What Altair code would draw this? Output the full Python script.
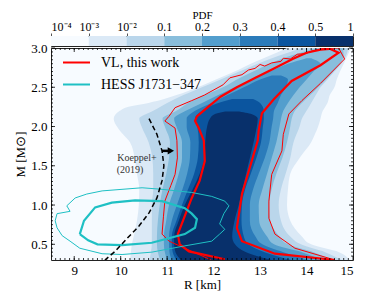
import altair as alt
import pandas as pd
import numpy as np

FONT = "Liberation Serif"

# ---------------- colour bar ----------------
CB_LABELS = ["10⁻⁴", "10⁻³", "10⁻²", "0.1", "0.2", "0.3", "0.4", "0.5", "1"]
CB_COLORS = ["#f7fbff", "#dbe9f6", "#bad6eb", "#89bedc", "#539ecd", "#2b7bba", "#0b559f", "#08306b"]

# ---------------- PDF levels (R interval at each M) ----------------
LV2_M = [0.3, 0.4, 0.5, 0.6, 0.8, 1.0, 1.2, 1.4, 1.6, 1.8, 1.9, 2.0, 2.1, 2.2, 2.25, 2.3, 2.4, 2.5, 2.6, 2.7, 2.8, 2.9, 3.0]
LV2_L = [10.2, 10.22, 10.24, 10.28, 10.35, 10.39, 10.4, 10.35, 10.3, 10.2, 10.05, 9.92, 9.85, 9.98, 10.15, 10.6, 11.2, 11.65, 12.05, 12.45, 12.8, 13.2, 13.58]
LV2_R = [14.93, 14.7, 14.1, 13.9, 13.65, 13.58, 13.6, 13.65, 13.85, 14.1, 14.18, 14.25, 14.3, 14.35, 14.4, 14.45, 14.5, 14.6, 14.65, 14.72, 14.8, 14.88, 14.95]

LV3_M = [0.3, 0.4, 0.5, 0.6, 0.8, 1.0, 1.2, 1.4, 1.6, 1.8, 2.0, 2.1, 2.2, 2.3, 2.4, 2.5, 2.6, 2.7, 2.8, 2.9, 3.0]
LV3_L = [10.62, 10.65, 10.67, 10.67, 10.67, 10.67, 10.7, 10.7, 10.68, 10.6, 10.45, 10.4, 10.7, 11.0, 11.35, 11.75, 12.15, 12.55, 12.95, 13.4, 13.9]
LV3_R = [14.76, 14.4, 13.88, 13.65, 13.45, 13.4, 13.45, 13.55, 13.65, 13.72, 13.85, 13.9, 14.0, 14.1, 14.2, 14.3, 14.45, 14.6, 14.75, 14.85, 14.9]

LV4_M = [0.3, 0.4, 0.5, 0.6, 0.8, 1.0, 1.2, 1.4, 1.6, 1.8, 2.0, 2.1, 2.2, 2.3, 2.4, 2.5, 2.6, 2.7, 2.8, 2.9, 3.0]
LV4_L = [10.85, 10.8, 10.78, 10.78, 10.8, 10.84, 10.9, 10.98, 11.04, 11.06, 10.95, 10.9, 11.2, 11.45, 11.8, 12.2, 12.5, 12.85, 13.2, 13.65, 14.2]
LV4_R = [14.54, 14.15, 13.6, 13.42, 13.22, 13.2, 13.25, 13.35, 13.48, 13.58, 13.65, 13.68, 13.75, 13.9, 14.08, 14.25, 14.42, 14.58, 14.72, 14.8, 14.78]

LV5_M = [0.3, 0.4, 0.5, 0.6, 0.8, 1.0, 1.2, 1.4, 1.6, 1.8, 2.0, 2.1, 2.2, 2.3, 2.4, 2.5, 2.6, 2.7, 2.8, 2.87]
LV5_L = [11.0, 10.95, 10.93, 10.93, 10.98, 11.04, 11.15, 11.25, 11.32, 11.32, 11.2, 11.15, 11.4, 11.75, 12.1, 12.45, 12.8, 13.2, 13.6, 14.0]
LV5_R = [14.33, 13.9, 13.3, 13.15, 12.98, 12.97, 13.05, 13.15, 13.25, 13.35, 13.42, 13.45, 13.5, 13.6, 13.72, 13.85, 14.0, 14.15, 14.3, 14.1]

LV6_M = [0.3, 0.4, 0.5, 0.6, 0.8, 1.0, 1.2, 1.4, 1.6, 1.8, 2.0, 2.1, 2.2, 2.3, 2.4, 2.5, 2.6, 2.65]
LV6_L = [11.1, 11.05, 11.04, 11.04, 11.1, 11.21, 11.33, 11.43, 11.49, 11.5, 11.42, 11.42, 11.6, 11.95, 12.3, 12.65, 13.0, 13.25]
LV6_R = [14.05, 13.5, 13.05, 12.9, 12.78, 12.78, 12.85, 12.97, 13.1, 13.2, 13.25, 13.28, 13.3, 13.38, 13.45, 13.55, 13.6, 13.45]

LV7_M = [0.3, 0.4, 0.5, 0.6, 0.8, 1.0, 1.2, 1.4, 1.6, 1.8, 2.0, 2.1, 2.2, 2.3, 2.35]
LV7_L = [11.2, 11.12, 11.1, 11.1, 11.2, 11.32, 11.45, 11.58, 11.66, 11.68, 11.65, 11.6, 11.75, 12.1, 12.4]
LV7_R = [13.68, 13.1, 12.75, 12.65, 12.6, 12.61, 12.68, 12.8, 12.92, 13.02, 13.06, 13.08, 13.08, 13.0, 12.85]

LV8_M = [0.3, 0.4, 0.5, 0.6, 0.8, 1.0, 1.2, 1.4, 1.6, 1.8, 2.0, 2.1, 2.15, 2.19]
LV8_L = [11.3, 11.18, 11.15, 11.15, 11.25, 11.38, 11.55, 11.7, 11.8, 11.82, 11.86, 11.92, 12.0, 12.25]
LV8_R = [13.25, 12.7, 12.46, 12.4, 12.45, 12.54, 12.62, 12.7, 12.78, 12.86, 12.93, 12.95, 12.85, 12.55]

LEVELS = [(LV2_M, LV2_L, LV2_R), (LV3_M, LV3_L, LV3_R), (LV4_M, LV4_L, LV4_R), (LV5_M, LV5_L, LV5_R),
          (LV6_M, LV6_L, LV6_R), (LV7_M, LV7_L, LV7_R), (LV8_M, LV8_L, LV8_R)]

# ---------------- VL contours (68% thick, 95% thin) ----------------
VL68_R = [12.24, 11.47, 11.27, 11.23, 11.36, 11.53, 11.70, 11.81, 11.79, 11.68, 11.60, 11.64, 11.90, 12.15, 12.5, 12.9, 13.3, 13.7, 14.0, 14.3, 14.5, 14.69, 14.3, 13.68, 13.3, 13.04, 12.97, 12.95, 12.82, 12.61, 12.5, 12.61, 13.32, 14.61]
VL68_M = [0.31, 0.41, 0.50, 0.63, 0.83, 1.09, 1.31, 1.56, 1.82, 1.98, 2.07, 2.13, 2.26, 2.38, 2.50, 2.62, 2.74, 2.86, 2.94, 2.98, 2.99, 2.94, 2.78, 2.58, 2.35, 2.17, 1.95, 1.82, 1.56, 1.14, 0.71, 0.54, 0.38, 0.30]

VL95_R = [11.95, 11.53, 11.04, 10.89, 10.92, 10.95, 11.08, 11.17, 11.22, 11.21, 11.17, 10.95, 11.04, 11.17, 11.53, 11.8, 12.2, 12.35, 12.61, 12.75, 12.89, 13.0, 13.1, 13.25, 13.45, 13.5, 13.65, 13.8, 14.0, 14.1, 14.33, 14.69, 14.82, 14.3, 13.9, 13.62, 13.5, 13.47, 13.25, 13.19, 13.19, 13.32, 13.75, 14.61]
VL95_M = [0.30, 0.41, 0.54, 0.63, 0.85, 1.05, 1.25, 1.39, 1.60, 1.82, 1.98, 2.07, 2.13, 2.24, 2.33, 2.40, 2.53, 2.62, 2.66, 2.72, 2.74, 2.79, 2.77, 2.81, 2.83, 2.87, 2.86, 2.92, 2.93, 2.96, 2.99, 3.0, 2.86, 2.55, 2.33, 2.16, 1.9, 1.69, 1.39, 1.05, 0.83, 0.63, 0.45, 0.30]

# ---------------- HESS J1731-347 contours ----------------
HESS68_R = [9.12, 9.21, 9.45, 9.81, 10.31, 10.89, 11.38, 11.53, 11.64, 11.60, 11.38, 10.67, 10.03, 9.5, 9.3, 9.12]
HESS68_M = [0.63, 0.80, 0.97, 1.03, 1.06, 1.05, 0.96, 0.89, 0.82, 0.71, 0.63, 0.52, 0.49, 0.50, 0.55, 0.63]

HESS95_R = [10.46, 9.6, 9.27, 9.02, 8.84, 8.91, 8.63, 8.59, 8.63, 8.74, 8.91, 9.12, 9.6, 10.03, 10.67, 11.38, 11.96, 12.13, 12.24, 12.13, 12.22, 12.33, 12.24, 11.96, 11.53, 10.89, 10.46]
HESS95_M = [1.22, 1.18, 1.14, 1.09, 0.99, 0.92, 0.89, 0.80, 0.71, 0.61, 0.54, 0.45, 0.38, 0.37, 0.40, 0.48, 0.54, 0.63, 0.69, 0.76, 0.89, 0.99, 1.05, 1.11, 1.16, 1.20, 1.22]

# ---------------- Koeppel+ (2019) bound ----------------
KOEP_R = [10.61, 10.78, 10.89, 10.93, 10.89, 10.78, 10.61, 10.39, 10.13, 9.88, 9.66]
KOEP_M = [2.10, 1.90, 1.69, 1.50, 1.31, 1.09, 0.90, 0.73, 0.57, 0.41, 0.30]
ARROW_R = [10.89, 11.08]
ARROW_M = 1.69
KOEP_TEXT = ["Koeppel+", "(2019)"]
KOEP_TEXT_R = [10.35, 10.2]
KOEP_TEXT_M = [1.60, 1.44]

SERIES = ["VL, this work", "HESS J1731−347"]
SERIES_COLORS = ["#ff0000", "#1fc0c4"]

X_TICKS = [9, 10, 11, 12, 13, 14, 15]
Y_TICKS = [0.5, 1.0, 1.5, 2.0, 2.5, 3.0]
X_MINOR = [round(v, 2) for v in np.arange(8.6, 15.0, 0.1)]
Y_MINOR = [round(v, 2) for v in np.arange(0.35, 3.0, 0.05)]

W, H = 302, 212

XS = alt.Scale(domain=[8.5, 15.0], nice=False, zero=False)
YS = alt.Scale(domain=[0.3, 3.0], nice=False, zero=False)
XA = alt.Axis(values=X_TICKS, format="d", tickSize=0, domain=False, grid=False, labelPadding=4,
              labelFontSize=13, titleFontSize=13, titlePadding=1, labelFont=FONT, titleFont=FONT,
              titleFontWeight="normal", labelColor="black", titleColor="black")
YA = alt.Axis(values=Y_TICKS, format=".1f", tickSize=0, domain=False, grid=False, labelPadding=4,
              labelFontSize=13, titleFontSize=13, titlePadding=3, labelFont=FONT, titleFont=FONT,
              titleFontWeight="normal", labelColor="black", titleColor="black")


def xe(f):
    return alt.X(f, type="quantitative", scale=XS, axis=XA, title="R [km]")


def ye(f):
    return alt.Y(f, type="quantitative", scale=YS, axis=YA, title="M [M⊙]")


CS = alt.Scale(domain=SERIES, range=SERIES_COLORS)
LEG = alt.Legend(title=None, orient="none", legendX=11, legendY=12, symbolType="stroke", symbolSize=729,
                 symbolStrokeWidth=2, labelFontSize=14, labelFont=FONT, labelOffset=10, rowPadding=-16,
                 labelColor="black")

layers = []
for k, (ms, ls, rs) in enumerate(LEVELS):
    df = pd.DataFrame({"M": ms, "L": ls, "R": rs})
    layers.append(
        alt.Chart(df).mark_area(orient="horizontal", interpolate="monotone", color=CB_COLORS[k + 1], clip=True)
        .encode(y=ye("M"), x=xe("L"), x2="R")
    )


def path(rs, ms, s):
    return pd.DataFrame({"R": rs, "M": ms, "i": list(range(len(rs))), "s": s})


def line(df, w):
    return alt.Chart(df).mark_line(strokeWidth=w, clip=True).encode(
        x=xe("R"), y=ye("M"), order="i:Q", color=alt.Color("s:N", scale=CS, legend=LEG))


layers.append(line(path(VL95_R, VL95_M, SERIES[0]), 1.0))
layers.append(line(path(VL68_R, VL68_M, SERIES[0]), 2.2))
layers.append(line(path(HESS95_R, HESS95_M, SERIES[1]), 1.0))
layers.append(line(path(HESS68_R, HESS68_M, SERIES[1]), 2.2))

kdf = pd.DataFrame({"R": KOEP_R, "M": KOEP_M, "i": list(range(len(KOEP_R)))})
layers.append(alt.Chart(kdf).mark_line(color="black", strokeWidth=1.5, strokeDash=[5, 3], clip=True)
              .encode(x=xe("R"), y=ye("M"), order="i:Q"))

adf = pd.DataFrame({"R0": [ARROW_R[0]], "R1": [ARROW_R[1]], "M": [ARROW_M]})
layers.append(alt.Chart(adf).mark_rule(color="black", strokeWidth=2.5).encode(x=xe("R0"), x2="R1", y=ye("M")))
layers.append(alt.Chart(adf).mark_point(shape="triangle-right", filled=True, size=55, color="black", opacity=1)
              .encode(x=xe("R1"), y=ye("M")))

tdf = pd.DataFrame({"R": KOEP_TEXT_R, "M": KOEP_TEXT_M, "t": KOEP_TEXT})
layers.append(alt.Chart(tdf).mark_text(font=FONT, fontSize=10, color="#333333", align="center", baseline="middle")
              .encode(x=xe("R"), y=ye("M"), text="t:N"))


# inward ticks on all four sides
def xticks(vals, ln):
    d = pd.DataFrame({"t": vals})
    b = alt.Chart(d).mark_rule(color="black", strokeWidth=0.8).encode(x=xe("t"), y=alt.value(H), y2=alt.value(H - ln))
    t = alt.Chart(d).mark_rule(color="black", strokeWidth=0.8).encode(x=xe("t"), y=alt.value(0), y2=alt.value(ln))
    return [b, t]


def yticks(vals, ln):
    d = pd.DataFrame({"t": vals})
    l = alt.Chart(d).mark_rule(color="black", strokeWidth=0.8).encode(y=ye("t"), x=alt.value(0), x2=alt.value(ln))
    r = alt.Chart(d).mark_rule(color="black", strokeWidth=0.8).encode(y=ye("t"), x=alt.value(W), x2=alt.value(W - ln))
    return [l, r]


layers += xticks(X_MINOR, 2) + xticks(X_TICKS, 4) + yticks(Y_MINOR, 2) + yticks(Y_TICKS, 4)

main = alt.layer(*layers).properties(width=W, height=H)

cbdf = pd.DataFrame({"lo": list(range(8)), "hi": list(range(1, 9)), "c": CB_COLORS})
label_expr = "[" + ",".join("'" + s + "'" for s in CB_LABELS) + "][datum.value]"
cbar = alt.Chart(cbdf).mark_rect().encode(
    x=alt.X("lo:Q", scale=alt.Scale(domain=[0, 8], nice=False, zero=False),
            axis=alt.Axis(orient="top", values=list(range(9)), labelExpr=label_expr, title="PDF",
                          tickSize=3, domain=False, grid=False, labelPadding=0, titlePadding=0,
                          labelFontSize=12, titleFontSize=11, labelFont=FONT, titleFont=FONT,
                          titleFontWeight="normal", labelColor="black", titleColor="black",
                          tickColor="#555555")),
    x2="hi:Q",
    color=alt.Color("c:N", scale=None),
).properties(width=W, height=10)

chart = alt.vconcat(cbar, main, spacing=2, bounds="flush").properties(
    padding={"left": 6, "top": 0, "right": 4, "bottom": 0}
).configure(font=FONT).configure_view(stroke="#222222", strokeWidth=1, fill="#f7fbff")

chart.save("out.html", embed_options={"renderer": "svg", "actions": False})
